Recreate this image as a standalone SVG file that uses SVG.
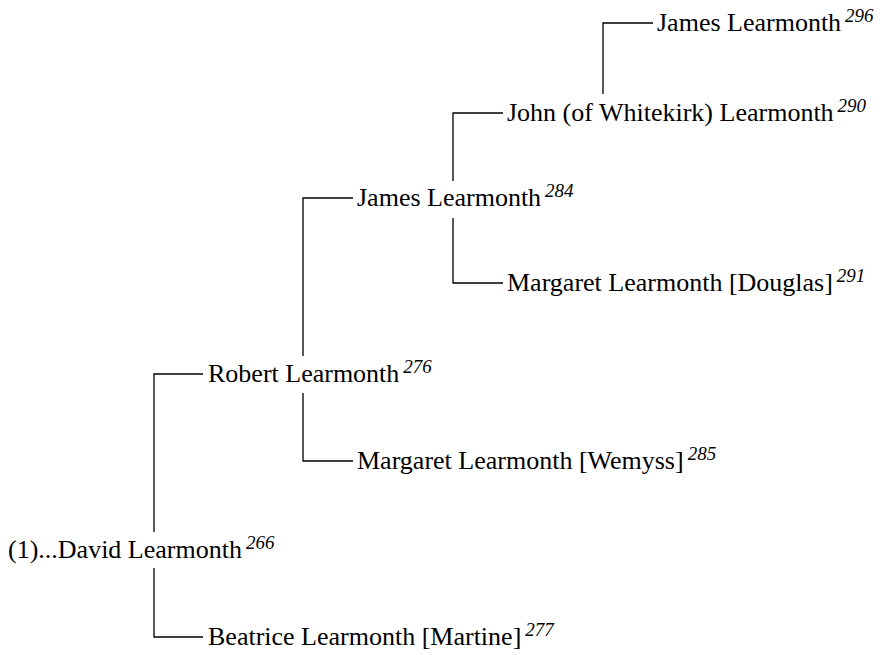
<svg xmlns="http://www.w3.org/2000/svg" width="884" height="655" viewBox="0 0 884 655">
<style>
text{font-family:"Liberation Serif","Times New Roman",serif;font-size:26px;fill:#000}
.sup{font-size:19px;font-style:italic}
.c{fill:none;stroke:#000;stroke-width:1.3}
</style>
<rect width="884" height="655" fill="#fff"/>
<g id="connectors" class="c">
<path d="M154,532 V374 H203"/>
<path d="M154,568 V637 H203"/>
<path d="M303,356 V198 H353"/>
<path d="M303,393 V461 H353"/>
<path d="M453,181 V113 H503"/>
<path d="M453,218 V283 H503"/>
<path d="M603,94 V23 H653"/>
</g>
<g id="david"><text x="8" y="558">(1)...David Learmonth<tspan class="sup" dx="4" dy="-9">266</tspan></text></g>
<g id="beatrice"><text x="208" y="645">Beatrice Learmonth [Martine]<tspan class="sup" dx="4" dy="-9">277</tspan></text></g>
<g id="robert"><text x="208" y="382">Robert Learmonth<tspan class="sup" dx="4" dy="-9">276</tspan></text></g>
<g id="margaret-wemyss"><text x="357" y="469">Margaret Learmonth [Wemyss]<tspan class="sup" dx="4" dy="-9">285</tspan></text></g>
<g id="james-284"><text x="357" y="206">James Learmonth<tspan class="sup" dx="4" dy="-9">284</tspan></text></g>
<g id="margaret-douglas"><text x="507" y="291">Margaret Learmonth [Douglas]<tspan class="sup" dx="4" dy="-9">291</tspan></text></g>
<g id="john"><text x="507" y="121">John (of Whitekirk) Learmonth<tspan class="sup" dx="4" dy="-9">290</tspan></text></g>
<g id="james-296"><text x="657" y="31">James Learmonth<tspan class="sup" dx="4" dy="-9">296</tspan></text></g>
</svg>
